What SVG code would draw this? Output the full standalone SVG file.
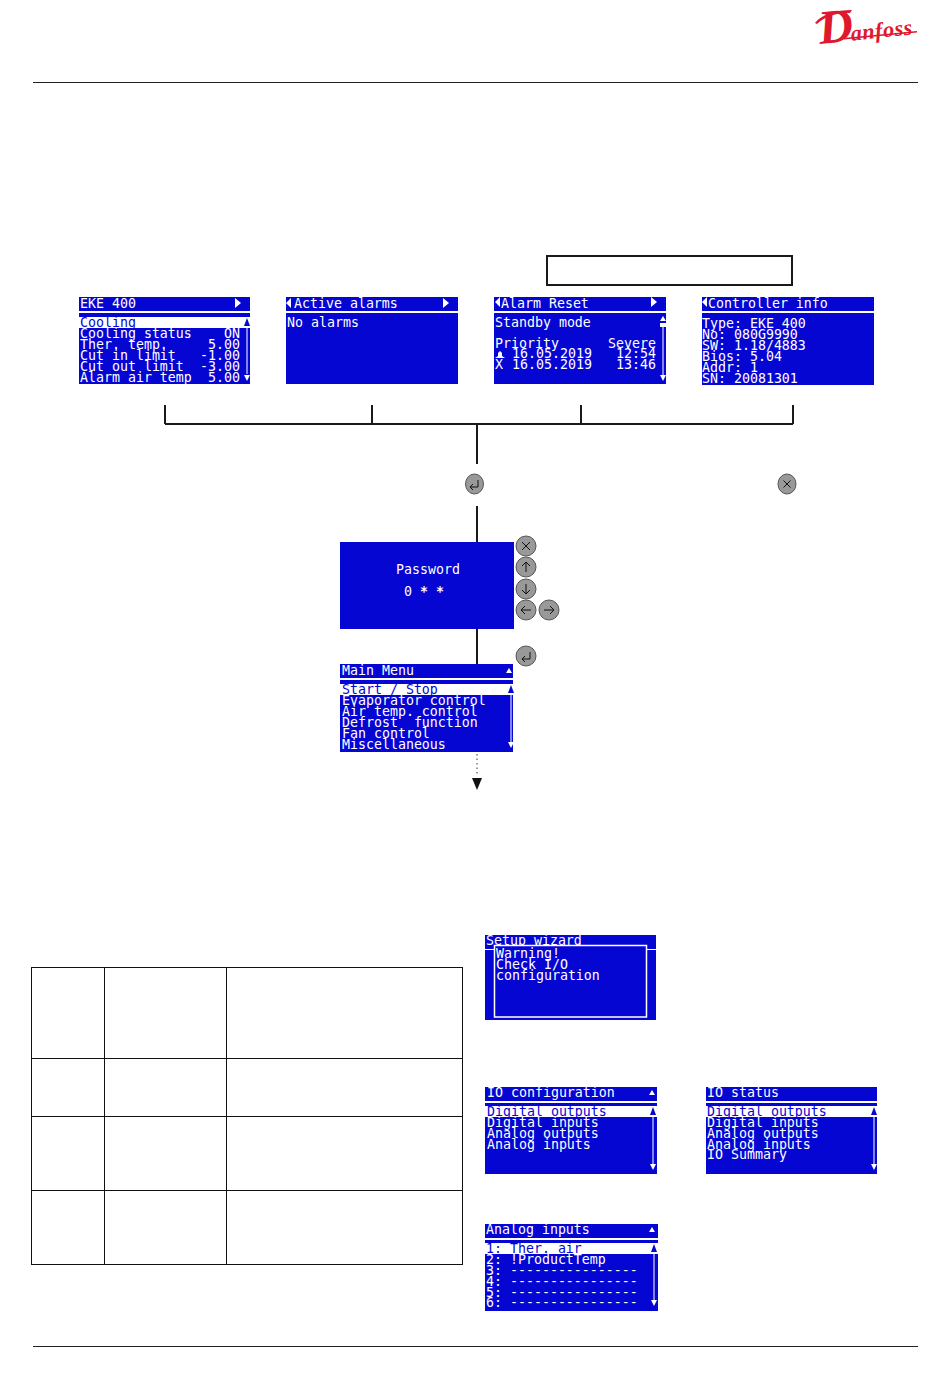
<svg xmlns="http://www.w3.org/2000/svg" width="950" height="1378" viewBox="0 0 950 1378">
<defs>
<style>
.bg{fill:#0606d2}
.w{fill:#fff}
.t{font-family:"DejaVu Sans Mono","Liberation Mono",monospace;font-size:13.28px;fill:#fff;white-space:pre;transform:translateY(1px)}
.k{fill:#0606d2}
.ln{stroke:#1a1a1a;stroke-width:2;fill:none}
.rule{stroke:#222;stroke-width:1;fill:none}
.bt{fill:#999;stroke:#555;stroke-width:1}
.g{stroke:#111;stroke-width:1;fill:none}
.sb{stroke:#fff;stroke-width:1;fill:none}
.logo{fill:#e0182d}
</style>
<g id="up"><path class="w" d="M-3 5L0 0L3 5Z"/></g>
<g id="dn"><path class="w" d="M-3 0L0 6L3 0Z"/></g>
<g id="rt"><path class="w" d="M0 -5L6 0L0 5Z"/></g>
<g id="lf"><path class="w" d="M5 -5L0 0L5 5Z"/></g>
<g id="bell"><path class="w" d="M-5 4L-2 2L-2 -1L0 -3L2 -1L2 2L5 4Z"/></g>
<g id="scrollW"><path class="w" d="M-3 5L0 0L3 5Z"/><path d="M-3 7H3V11H-3Z" class="w"/></g>
<g id="scrollK"><path class="k" d="M-3 8L0 0L3 8Z"/></g>
</defs>
<rect width="950" height="1378" fill="#fff"/>

<g id="logo">
<path class="logo" d="M815 23C822 14 836 10 852 10L850 13C837 13 825 16 817 24Z"/>
<text class="logo" x="820" y="44" font-family="Liberation Serif,serif" font-style="italic" font-weight="bold" font-size="48" transform="rotate(-6 820 44)"><tspan>D</tspan><tspan font-size="22" dx="-3" letter-spacing="0.600">anfoss</tspan></text>
<path class="logo" d="M843 38L917 31L917 32.500L844 39.500Z"/>
</g>

<g id="rules">
<line class="rule" x1="33" y1="82.5" x2="918" y2="82.5"/>
<line class="rule" x1="33" y1="1346.5" x2="918" y2="1346.5"/>
</g>

<rect id="empty-box" x="547" y="256" width="245" height="29" fill="none" stroke="#1a1a1a" stroke-width="2"/>

<g id="connectors">
<path class="ln" d="M165 405V424M372 405V424M581 405V424M793 405V424M165 424H793M477 424V464M477 506V542M477 629V664"/>
<line x1="477" y1="754" x2="477" y2="776" stroke="#333" stroke-width="1" stroke-dasharray="1.5 3"/>
<path d="M472 778H482L477 790Z" fill="#111"/>
</g>

<g id="screen-eke400">
<rect class="bg" x="79" y="297" width="171" height="87"/>
<rect class="w" x="79" y="311" width="171" height="2"/>
<rect class="w" x="79" y="317" width="171" height="11"/>
<text class="t" x="80" y="307">EKE 400</text>
<use href="#rt" x="235" y="303"/>
<text class="t k" x="80" y="326">Cooling</text>
<text class="t" x="80" y="337">Cooling status</text><text class="t" x="224" y="337">ON</text>
<text class="t" x="80" y="348">Ther. temp.</text><text class="t" x="208" y="348">5.00</text>
<text class="t" x="80" y="359">Cut in limit</text><text class="t" x="200" y="359">-1.00</text>
<text class="t" x="80" y="370">Cut out limit</text><text class="t" x="200" y="370">-3.00</text>
<text class="t" x="80" y="381">Alarm air temp</text><text class="t" x="208" y="381">5.00</text>
<line class="sb" x1="247" y1="328" x2="247" y2="374"/>
<use href="#scrollK" x="247" y="318"/>
<use href="#dn" x="247" y="375"/>
</g>

<g id="screen-active-alarms">
<rect class="bg" x="286" y="297" width="172" height="87"/>
<rect class="w" x="286" y="311" width="172" height="2"/>
<use href="#lf" x="286" y="303"/>
<text class="t" x="294" y="307">Active alarms</text>
<use href="#rt" x="443" y="303"/>
<text class="t" x="287" y="326">No alarms</text>
</g>

<g id="screen-alarm-reset">
<rect class="bg" x="494" y="297" width="172" height="87"/>
<rect class="w" x="494" y="311" width="172" height="2"/>
<use href="#lf" x="495" y="302"/>
<text class="t" x="501" y="307">Alarm Reset</text>
<use href="#rt" x="651" y="302"/>
<text class="t" x="495" y="326">Standby mode</text>
<text class="t" x="495" y="347">Priority</text><text class="t" x="608" y="347">Severe</text>
<use href="#bell" x="500" y="354"/>
<text class="t" x="512" y="357">16.05.2019</text><text class="t" x="616" y="357">12:54</text>
<text class="t" x="495" y="368">X</text>
<text class="t" x="512" y="368">16.05.2019</text><text class="t" x="616" y="368">13:46</text>
<line class="sb" x1="663" y1="326" x2="663" y2="375"/>
<use href="#scrollW" x="663" y="316"/>
<use href="#dn" x="663" y="375"/>
</g>

<g id="screen-controller-info">
<rect class="bg" x="702" y="297" width="172" height="88"/>
<rect class="w" x="702" y="311" width="172" height="2"/>
<use href="#lf" x="702" y="302"/>
<text class="t" x="708" y="307">Controller info</text>
<text class="t" x="702" y="327">Type: EKE 400</text>
<text class="t" x="702" y="338">No: 080G9990</text>
<text class="t" x="702" y="349">SW: 1.18/4883</text>
<text class="t" x="702" y="360">Bios: 5.04</text>
<text class="t" x="702" y="371">Addr: 1</text>
<text class="t" x="702" y="382">SN: 20081301</text>
</g>

<g id="btn-enter-top"><ellipse class="bt" cx="474.500" cy="484" rx="9" ry="10"/><path class="g" d="M478 480V487H470M473 484L470 487L473 490"/></g>
<g id="btn-cancel-top"><ellipse class="bt" cx="787" cy="484" rx="9" ry="10"/><path class="g" d="M783.500 480.500L790.500 487.500M790.500 480.500L783.500 487.500"/></g>

<g id="screen-password">
<rect class="bg" x="340" y="542" width="174" height="87"/>
<text class="t" x="396" y="573">Password</text>
<text class="t" x="404" y="595">0</text><text class="t" x="420" y="595" font-weight="bold">*</text><text class="t" x="436" y="595" font-weight="bold">*</text>
</g>

<g id="btn-x"><circle class="bt" cx="526" cy="546" r="10"/><path class="g" d="M522 542L530 550M530 542L522 550"/></g>
<g id="btn-up"><circle class="bt" cx="526" cy="567" r="10"/><path class="g" d="M526 572V562M522 566L526 562L530 566"/></g>
<g id="btn-down"><circle class="bt" cx="526" cy="589" r="10"/><path class="g" d="M526 584V594M522 590L526 594L530 590"/></g>
<g id="btn-left"><circle class="bt" cx="526" cy="610" r="10"/><path class="g" d="M531 610H521M525 606L521 610L525 614"/></g>
<g id="btn-right"><circle class="bt" cx="549" cy="610" r="10"/><path class="g" d="M544 610H554M550 606L554 610L550 614"/></g>
<g id="btn-enter"><circle class="bt" cx="526" cy="656" r="10"/><path class="g" d="M530 652V659H522M525 656L522 659L525 662"/></g>

<g id="screen-main-menu">
<rect class="bg" x="340" y="664" width="173" height="88"/>
<rect class="w" x="340" y="678" width="173" height="2"/>
<rect class="w" x="340" y="684" width="173" height="11"/>
<text class="t" x="342" y="674">Main Menu</text>
<use href="#up" x="509" y="668"/>
<text class="t k" x="342" y="693">Start / Stop</text>
<text class="t" x="342" y="704">Evaporator control</text>
<text class="t" x="342" y="715">Air temp. control</text>
<text class="t" x="342" y="726">Defrost  function</text>
<text class="t" x="342" y="737">Fan control</text>
<text class="t" x="342" y="748">Miscellaneous</text>
<line class="sb" x1="511" y1="695" x2="511" y2="742"/>
<use href="#scrollK" x="511" y="685"/>
<use href="#dn" x="511" y="742"/>
</g>

<g id="table">
<rect x="31.500" y="967.500" width="431" height="297" fill="none" stroke="#111" stroke-width="1"/>
<path fill="none" stroke="#111" stroke-width="1" d="M104.500 967V1264M226.500 967V1264M31 1058.500H463M31 1116.500H463M31 1190.500H463"/>
</g>

<g id="screen-setup-wizard">
<rect class="bg" x="485" y="935" width="171" height="85"/>
<rect class="w" x="485" y="949" width="171" height="1"/>
<text class="t" x="486" y="944">Setup wizard</text>
<rect class="bg" x="494.500" y="945.500" width="152" height="71.500" stroke="#fff" stroke-width="1.500"/>
<text class="t" x="496" y="957">Warning!</text>
<text class="t" x="496" y="968">Check I/O</text>
<text class="t" x="496" y="979">configuration</text>
</g>

<g id="screen-io-config">
<rect class="bg" x="485" y="1087" width="172" height="87"/>
<rect class="w" x="485" y="1101" width="172" height="2"/>
<rect class="w" x="485" y="1106" width="172" height="11"/>
<text class="t" x="487" y="1096">IO configuration</text>
<use href="#up" x="652" y="1090"/>
<text class="t k" x="487" y="1115">Digital outputs</text>
<text class="t" x="487" y="1126">Digital inputs</text>
<text class="t" x="487" y="1137">Analog outputs</text>
<text class="t" x="487" y="1148">Analog inputs</text>
<line class="sb" x1="653" y1="1117" x2="653" y2="1164"/>
<use href="#scrollK" x="653" y="1107"/>
<use href="#dn" x="653" y="1164"/>
</g>

<g id="screen-io-status">
<rect class="bg" x="706" y="1087" width="171" height="87"/>
<rect class="w" x="706" y="1101" width="171" height="2"/>
<rect class="w" x="706" y="1106" width="171" height="11"/>
<text class="t" x="707" y="1096">IO status</text>
<text class="t k" x="707" y="1115">Digital outputs</text>
<text class="t" x="707" y="1126">Digital inputs</text>
<text class="t" x="707" y="1137">Analog outputs</text>
<text class="t" x="707" y="1148">Analog inputs</text>
<text class="t" x="707" y="1158">IO Summary</text>
<line class="sb" x1="874" y1="1117" x2="874" y2="1164"/>
<use href="#scrollK" x="874" y="1107"/>
<use href="#dn" x="874" y="1164"/>
</g>

<g id="screen-analog-inputs">
<rect class="bg" x="485" y="1224" width="173" height="87"/>
<rect class="w" x="485" y="1238" width="173" height="2"/>
<rect class="w" x="485" y="1243" width="173" height="11"/>
<text class="t" x="486" y="1233">Analog inputs</text>
<use href="#up" x="652" y="1227"/>
<text class="t k" x="486" y="1252">1: Ther. air</text>
<text class="t" x="486" y="1263">2: !ProductTemp</text>
<text class="t" x="486" y="1274">3: ----------------</text>
<text class="t" x="486" y="1285">4: ----------------</text>
<text class="t" x="486" y="1296">5: ----------------</text>
<text class="t" x="486" y="1306">6: ----------------</text>
<line class="sb" x1="654" y1="1254" x2="654" y2="1300"/>
<use href="#scrollK" x="654" y="1244"/>
<use href="#dn" x="654" y="1300"/>
</g>
</svg>
